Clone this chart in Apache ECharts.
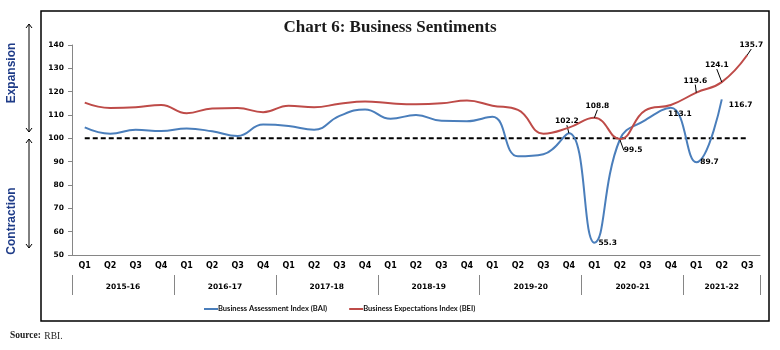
<!DOCTYPE html>
<html>
<head>
<meta charset="utf-8">
<script src="https://cdn.jsdelivr.net/npm/echarts@6/dist/echarts.min.js"></script>
<style>
  html, body { margin: 0; padding: 0; background: #fff; }
  #chart { width: 780px; height: 350px; }
</style>
</head>
<body>
<div id="chart"></div>
<script>
// quarters and years for the two-row category axis
var quarters = ['Q1','Q2','Q3','Q4','Q1','Q2','Q3','Q4','Q1','Q2','Q3','Q4','Q1','Q2','Q3','Q4',
                'Q1','Q2','Q3','Q4','Q1','Q2','Q3','Q4','Q1','Q2','Q3'];
var years = ['2015-16','2016-17','2017-18','2018-19','2019-20','2020-21','2021-22'];
var quartersPerYear = [4, 4, 4, 4, 4, 4, 3];
var yTicks = [50, 60, 70, 80, 90, 100, 110, 120, 130, 140];

var bai = [104.7, 102.0, 103.7, 103.1, 104.2, 103.0, 101.0, 105.9, 105.3, 103.7, 109.6, 112.4,
           108.4, 110.0, 107.5, 107.3, 109.2, 92.3, 93.2, 102.2, 55.3, 99.5, 107.8, 113.1,
           89.7, 116.7, null];
var bei = [115.3, 113.0, 113.3, 114.3, 110.8, 112.8, 113.0, 111.2, 114.0, 113.3, 114.8, 115.8,
           115.0, 114.6, 115.0, 116.2, 114.0, 112.2, 102.0, 104.6, 108.8, 99.7, 112.0, 114.3,
           119.6, 124.1, 135.7];
var threshold = 100;

// which points carry a value label (index -> [position, dx, dy, leader])
var baiLabels = {
    19: ['top', -2, -4, true],
    20: ['right', 0, 0, false],
    21: ['right', 0, 11, true],
    23: ['bottom', 9, -2, false],
    24: ['right', 0, 0, false],
    25: ['right', 3, 6, false]
};
var beiLabels = {
    20: ['top', 3, -4, true],
    24: ['top', -1, -4, true],
    25: ['top', -5, -9, true],
    26: ['top', 4, -2, true]
};

var BLUE = '#4A7EBB';
var RED = '#BE4B48';
var AXIS = '#868686';
var CLEAR = 'rgba(0,0,0,0)';

function withLabels(values, spots) {
    return values.map(function (v, i) {
        var s = spots[i];
        if (!s || v == null) return v;
        return {
            value: v,
            label: { show: true, position: s[0] },
            labelLine: { show: s[3] }
        };
    });
}

function layoutFor(spots) {
    return function (p) {
        var s = spots[p.dataIndex];
        return s ? { dx: s[1], dy: s[2] } : {};
    };
}

// boundaries and label centres for the year row
var yearEdges = [0];
var yearMids = [];
quartersPerYear.forEach(function (n, i) {
    yearMids.push(yearEdges[i] + n / 2);
    yearEdges.push(yearEdges[i] + n);
});

var chart = echarts.init(document.getElementById('chart'), null, { renderer: 'canvas' });

var labelFont = {
    show: false,
    color: '#000',
    fontFamily: 'DejaVu Sans',
    fontWeight: 'bold',
    fontSize: 7.5,
    distance: 4
};

function lineSeries(name, values, spots, color, z) {
    return {
        name: name,
        type: 'line',
        smooth: 0.45,
        showSymbol: true,
        symbol: 'circle',
        symbolSize: 0.01,
        color: color,
        itemStyle: { color: CLEAR, borderWidth: 0 },
        lineStyle: { color: color, width: 2 },
        label: labelFont,
        labelLine: { show: false, lineStyle: { color: '#000', width: 1 } },
        labelLayout: layoutFor(spots),
        data: withLabels(values, spots),
        z: z
    };
}

var option = {
    animation: false,
    backgroundColor: '#fff',
    title: {
        text: 'Chart 6: Business Sentiments',
        left: 'center',
        top: 14,
        textStyle: {
            fontFamily: 'Liberation Serif',
            fontWeight: 'bold',
            fontSize: 17,
            color: '#1a1a1a'
        }
    },
    legend: {
        bottom: 32,
        left: 199,
        itemGap: 22,
        itemWidth: 14,
        itemHeight: 2,
        icon: 'rect',
        data: [
            { name: 'Business Assessment Index (BAI)', itemStyle: { color: BLUE } },
            { name: 'Business Expectations Index (BEI)', itemStyle: { color: RED } }
        ],
        textStyle: {
            fontFamily: 'Lato',
            fontWeight: 'bold',
            fontSize: 7.5,
            color: '#111',
            padding: [0, 0, 0, -5]
        }
    },
    grid: { left: 72, right: 20, top: 45, bottom: 95 },
    xAxis: [
        {
            type: 'category',
            data: quarters,
            boundaryGap: true,
            axisLine: { lineStyle: { color: AXIS, width: 1 } },
            axisTick: { interval: 0, length: 20, lineStyle: { color: AXIS } },
            axisLabel: {
                interval: 0, margin: 7,
                fontFamily: 'DejaVu Sans', fontWeight: 'bold', fontSize: 8, color: '#000'
            }
        },
        {
            type: 'value',
            position: 'bottom',
            offset: 20,
            min: 0,
            max: quarters.length,
            axisLine: { show: false },
            splitLine: { show: false },
            axisTick: { show: true, length: 20, customValues: yearEdges, lineStyle: { color: AXIS } },
            axisLabel: {
                customValues: yearMids,
                margin: 8,
                fontFamily: 'DejaVu Sans', fontWeight: 'bold', fontSize: 7.5, color: '#000',
                formatter: function (v) { return years[yearMids.indexOf(v)] || ''; }
            }
        }
    ],
    yAxis: {
        type: 'value',
        min: 50,
        max: 140,
        interval: 10,
        axisLine: { show: true, lineStyle: { color: AXIS } },
        axisTick: { show: true, length: 4, lineStyle: { color: AXIS } },
        splitLine: { show: false },
        axisLabel: {
            margin: 8,
            fontFamily: 'DejaVu Sans', fontWeight: 'bold', fontSize: 7.5, color: '#000',
            formatter: function (v) { return yTicks.indexOf(v) >= 0 ? String(v) : ''; }
        }
    },
    series: [
        lineSeries('Business Assessment Index (BAI)', bai, baiLabels, BLUE, 3),
        lineSeries('Business Expectations Index (BEI)', bei, beiLabels, RED, 4),
        {
            name: 'threshold',
            type: 'line',
            symbol: 'none',
            silent: true,
            lineStyle: { color: '#000', width: 2, type: [5, 3] },
            data: quarters.map(function () { return threshold; }),
            z: 2
        }
    ],
    graphic: [
        // chart frame
        { type: 'rect', shape: { x: 41, y: 11, width: 728, height: 310 },
          style: { fill: 'none', stroke: '#000', lineWidth: 1.5 }, silent: true },
        // side annotations
        { type: 'text', x: 12, y: 73, rotation: Math.PI / 2,
          style: { text: 'Expansion', fill: '#1F3C88', font: 'bold 12px "Liberation Sans"',
                   align: 'center', verticalAlign: 'middle' } },
        { type: 'text', x: 12, y: 221, rotation: Math.PI / 2,
          style: { text: 'Contraction', fill: '#1F3C88', font: 'bold 12px "Liberation Sans"',
                   align: 'center', verticalAlign: 'middle' } },
        { type: 'line', shape: { x1: 29, y1: 24, x2: 29, y2: 132 }, style: { stroke: '#000', lineWidth: 1 } },
        { type: 'polyline', shape: { points: [[26, 28], [29, 24], [32, 28]] }, style: { stroke: '#000', fill: 'none', lineWidth: 1 } },
        { type: 'polyline', shape: { points: [[26, 128], [29, 132], [32, 128]] }, style: { stroke: '#000', fill: 'none', lineWidth: 1 } },
        { type: 'line', shape: { x1: 29, y1: 139, x2: 29, y2: 248 }, style: { stroke: '#000', lineWidth: 1 } },
        { type: 'polyline', shape: { points: [[26, 143], [29, 139], [32, 143]] }, style: { stroke: '#000', fill: 'none', lineWidth: 1 } },
        { type: 'polyline', shape: { points: [[26, 244], [29, 248], [32, 244]] }, style: { stroke: '#000', fill: 'none', lineWidth: 1 } },
        // source note
        { type: 'text', x: 10, y: 336,
          style: { text: '{b|Source:} {n|RBI.}', verticalAlign: 'middle',
                   rich: {
                       b: { fontWeight: 'bold', fontFamily: 'Liberation Serif', fontSize: 9.5, fill: '#222' },
                       n: { fontFamily: 'Liberation Serif', fontSize: 9.5, fill: '#222' }
                   } } }
    ]
};

chart.setOption(option);
</script>
</body>
</html>
